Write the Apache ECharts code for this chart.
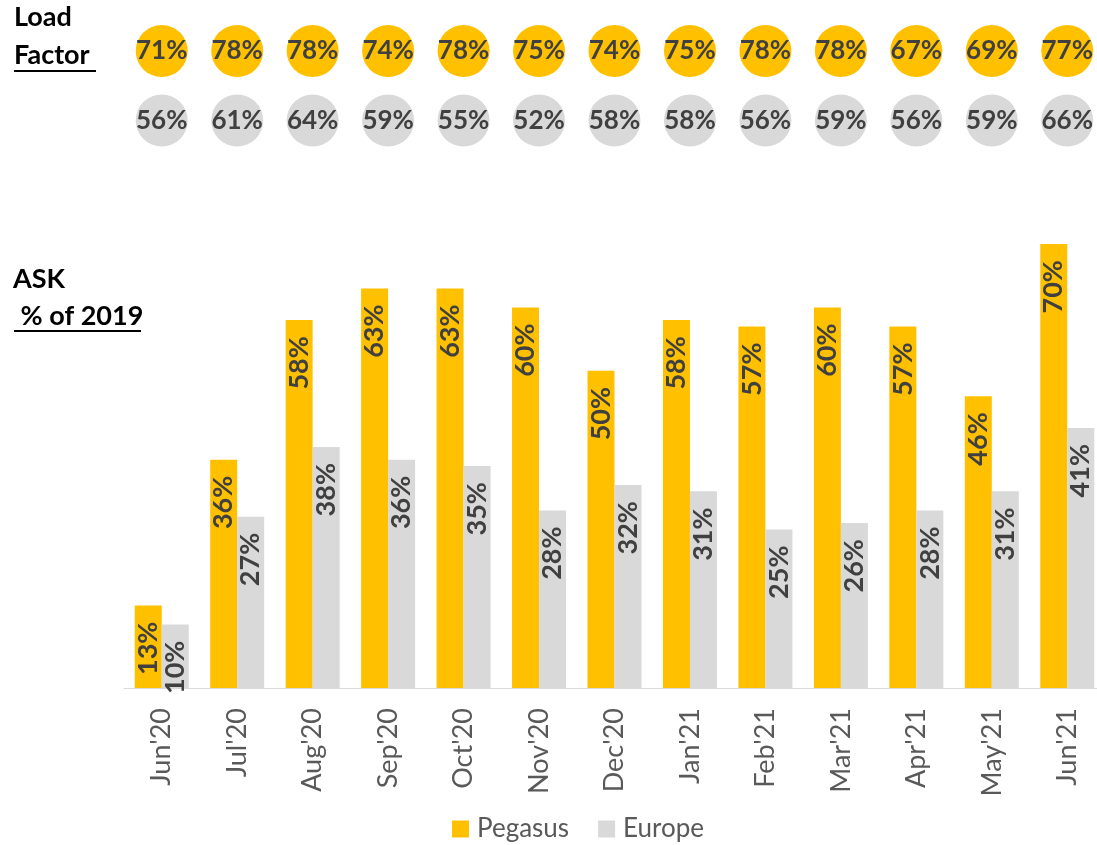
<!DOCTYPE html>
<html><head><meta charset="utf-8">
<script src="https://cdn.jsdelivr.net/npm/echarts@6/dist/echarts.min.js"></script>
<style>html,body{margin:0;padding:0;background:#fff}#c{width:1097px;height:845px}</style>
</head><body><div id="c"></div>
<script>
var categories = ["Jun'20","Jul'20","Aug'20","Sep'20","Oct'20","Nov'20","Dec'20","Jan'21","Feb'21","Mar'21","Apr'21","May'21","Jun'21"];
var askPegasus = [13,36,58,63,63,60,50,58,57,60,57,46,70];
var askEurope = [10,27,38,36,35,28,32,31,25,26,28,31,41];
var loadPegasus = [71,78,78,74,78,75,74,75,78,78,67,69,77];
var loadEurope = [56,61,64,59,55,52,58,58,56,59,56,59,66];

var YEL = '#FFC000', GRY = '#D9D9D9', TXT = '#404040';
var FONT = 'Lato, "Open Sans", sans-serif';

var chart = echarts.init(document.getElementById('c'));
var gridL = 124, gridW = 981;

var barLabel = {
  show: true, position: 'insideTop', rotate: 90, align: 'right', verticalAlign: 'middle',
  distance: 16, color: TXT, fontFamily: FONT, fontWeight: 'bold', fontSize: 27,
  formatter: function(p){ return p.value + '%'; }
};

var lpData = loadPegasus.map(function(v,i){ return [i, 1, v]; });
var leData = loadEurope.map(function(v,i){ return [i, 0, v]; });
var circLabel = {
  show: true, position: 'inside', color: TXT, fontFamily: FONT, fontWeight: 'bold', fontSize: 26,
  formatter: function(p){ return p.value[2] + '%'; }
};

chart.setOption({
  animation: false,
  textStyle: { fontFamily: FONT },
  grid: [
    { left: gridL, width: gridW, top: 244, bottom: 157, outerBoundsMode: 'none', containLabel: false },
    { left: gridL, width: gridW, top: 51, height: 69.5, outerBoundsMode: 'none', containLabel: false }
  ],
  xAxis: [
    { type: 'category', data: categories, gridIndex: 0,
      axisLine: { lineStyle: { color: '#D9D9D9', width: 1 } }, axisTick: { show: false },
      axisLabel: { rotate: 90, color: '#595959', fontSize: 27, fontFamily: FONT, margin: 20 } },
    { type: 'category', data: categories, gridIndex: 1, show: false }
  ],
  yAxis: [
    { type: 'value', gridIndex: 0, min: 0, max: 70, show: false, splitLine: { show: false } },
    { type: 'value', gridIndex: 1, min: 0, max: 1, show: false, splitLine: { show: false } }
  ],
  legend: {
    top: 816, left: 452, padding: 0, itemWidth: 17, itemHeight: 17, itemGap: 29,
    textStyle: { color: '#595959', fontSize: 26, lineHeight: 26, fontFamily: FONT, padding: [0, 0, 0, 3] },
    data: [{ name: 'Pegasus', icon: 'rect' }, { name: 'Europe', icon: 'rect' }]
  },
  graphic: [
    { type: 'text', left: 14, top: 4, style: { text: 'Load', font: 'bold 27px ' + FONT, fill: '#000' } },
    { type: 'text', left: 14, top: 42, style: { text: 'Factor', font: 'bold 27px ' + FONT, fill: '#000' } },
    { type: 'line', shape: { x1: 14, y1: 71, x2: 96, y2: 71 }, style: { stroke: '#000', lineWidth: 2 } },
    { type: 'text', left: 13, top: 266, style: { text: 'ASK', font: 'bold 27px ' + FONT, fill: '#000' } },
    { type: 'text', left: 14, top: 303, style: { text: ' % of 2019', font: 'bold 27px ' + FONT, fill: '#000' } },
    { type: 'line', shape: { x1: 14, y1: 331, x2: 141, y2: 331 }, style: { stroke: '#000', lineWidth: 2 } }
  ],
  series: [
    { name: 'Pegasus', type: 'bar', xAxisIndex: 0, yAxisIndex: 0, data: askPegasus,
      barWidth: 27, barGap: '0%', itemStyle: { color: YEL }, label: barLabel },
    { name: 'Europe', type: 'bar', xAxisIndex: 0, yAxisIndex: 0, data: askEurope,
      barWidth: 27, barGap: '0%', itemStyle: { color: GRY }, label: barLabel },
    { name: 'LF Pegasus', type: 'scatter', xAxisIndex: 1, yAxisIndex: 1, data: lpData,
      symbol: 'circle', symbolSize: 52, itemStyle: { color: YEL, opacity: 1 }, label: circLabel },
    { name: 'LF Europe', type: 'scatter', xAxisIndex: 1, yAxisIndex: 1, data: leData,
      symbol: 'circle', symbolSize: 52, itemStyle: { color: GRY, opacity: 1 }, label: circLabel }
  ]
});
</script></body></html>
